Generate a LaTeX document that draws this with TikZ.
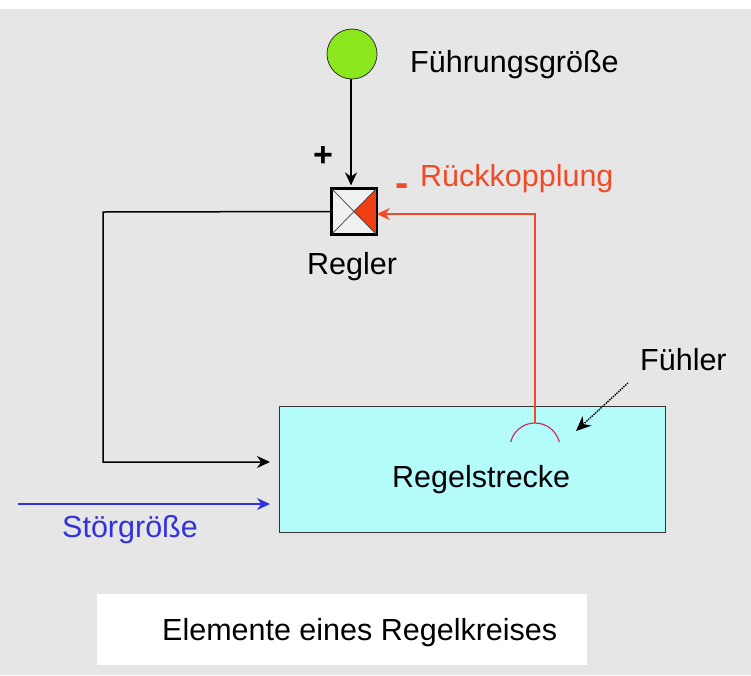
\documentclass[tikz,border=0pt]{standalone}
\usepackage{fontspec}
\setmainfont{Liberation Sans}
\usetikzlibrary{arrows.meta}
\definecolor{bggray}{RGB}{230,230,230}
\definecolor{cyanfill}{RGB}{180,252,252}
\definecolor{greenfill}{RGB}{140,232,30}
\definecolor{redor}{RGB}{240,75,40}
\definecolor{redfill}{RGB}{240,62,20}
\definecolor{bluecol}{RGB}{50,50,220}
\definecolor{arccol}{RGB}{200,50,100}
\tikzset{
  lbl/.style={font=\fontsize{30.5}{33}\selectfont, inner sep=0pt, anchor=base west},
  tip/.style={-{Stealth[length=13pt,width=12pt]}},
  wire/.style={line width=1.5pt}
}
\begin{document}
\begin{tikzpicture}[x=1pt,y=-1pt]
\useasboundingbox (0,0) rectangle (751,675);
\fill[white] (0,0) rectangle (751,675);
\fill[bggray] (0,9) rectangle (751,675);
% title box
\fill[white] (97,594) rectangle (587,665);
\node[lbl] (title) at (162,640) {Elemente eines Regelkreises};
% source circle
\node[circle, draw=black!80, line width=0.8pt, fill=greenfill, minimum size=50pt, inner sep=0pt] (fg) at (352,54) {};
\node[lbl] (fgl) at (410,72) {Führungsgröße};
% regler
\node[rectangle, draw=black, line width=1.6pt, fill=white!94!black, minimum width=44pt, minimum height=45pt, inner sep=0pt] (reg) at (354,211.5) {};
\fill[redfill] (reg.center) -- (reg.north east) -- (reg.south east) -- cycle;
\draw[black!75, line width=0.7pt] (reg.north west) -- (reg.south east) (reg.north east) -- (reg.south west);
\draw[black, line width=1.6pt] (reg.north west) rectangle (reg.south east);
\node[lbl] (regl) at (307,274) {Regler};
\node[font=\fontsize{34}{36}\selectfont\bfseries, inner sep=0pt] (plus) at (323,157) {+};
\node[font=\fontsize{40}{42}\selectfont\bfseries, text=redor, inner sep=0pt] (minus) at (402,190) {-};
\node[lbl, text=redor] (rk) at (420,186) {Rückkopplung};
% plant
\node[rectangle, draw=black!80, line width=1.3pt, fill=cyanfill, minimum width=386pt, minimum height=126pt, inner sep=0pt, anchor=north west] (plant) at (279,406) {};
\node[lbl] (pl) at (392,487) {Regelstrecke};
% sensor arc
\coordinate (arcc) at (535,448);
\draw[arccol, line width=1.2pt] ([shift={(-14:25)}]arcc) arc[start angle=-14, end angle=-166, radius=25];
\coordinate (arctop) at (535,423);
\node[lbl] (fu) at (640,370) {Fühler};
\coordinate (fustart) at (628,383);
\coordinate (futip) at (576,431);
\draw[line width=1.4pt, densely dotted, -{Stealth[length=15pt,width=13pt]}] (fustart) -- (futip);
% connectors
\draw[wire, tip] (fg.south) ++(-1,0) -- ++(0,106);
\draw[wire, redor, tip] (arctop) -- (535,214) -- (reg.east |- 0,214);
\coordinate (loopa) at (103,212);
\coordinate (loopb) at (103,462);
\draw[wire, tip] (reg.west) -- (loopa) -- (loopb) -- (270,462);
\coordinate (sgstart) at (18,504);
\draw[wire, bluecol, tip] (sgstart) -- (270,504);
\node[lbl, text=bluecol] (sg) at (62,537) {Störgröße};
\end{tikzpicture}
\end{document}
